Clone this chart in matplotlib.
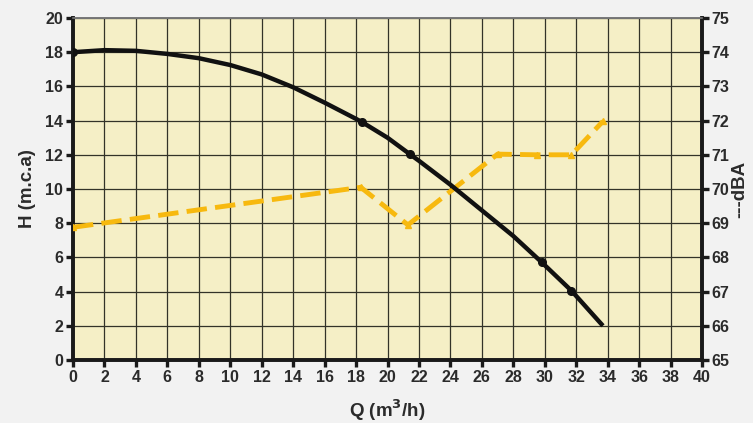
import matplotlib
matplotlib.use("Agg")
import matplotlib.pyplot as plt
import numpy as np

# H-Q curve (smooth)
q_curve = [0, 2, 4, 6, 8, 10, 12, 14, 16, 18, 18.4, 20, 21.4, 22, 24, 26, 28, 29.8, 31.7, 33.7]
h_curve = [18.0, 18.12, 18.08, 17.9, 17.65, 17.25, 16.7, 15.95, 15.05, 14.1, 13.9, 13.0, 12.05, 11.65, 10.25, 8.75, 7.25, 5.72, 4.05, 2.0]
# measured markers on H curve
q_pts = [0, 18.4, 21.4, 29.8, 31.7]
h_pts = [18.0, 13.9, 12.05, 5.72, 4.05]

# noise curve (dBA)
q_noise = [0, 18.3, 21.3, 27.0, 29.5, 31.7, 33.7]
dba = [68.88, 70.05, 68.95, 71.02, 71.0, 71.0, 71.98]

xticks = list(range(0, 41, 2))
yticks_left = list(range(0, 21, 2))
yticks_right = list(range(65, 76))

plt.rcParams['font.family'] = ['Liberation Sans', 'DejaVu Sans']
fig = plt.figure(figsize=(7.53, 4.23), dpi=100, facecolor='#f2f2f2')
ax = fig.add_axes([73/753, 1-360/423, (702-73)/753, (360-18)/423])
ax.set_facecolor('#f5efc6')

ax.set_xlim(0, 40)
ax.set_ylim(0, 20)
ax.set_xticks(xticks)
ax.set_yticks(yticks_left)
ax.grid(True, color='#333328', linewidth=0.9)
ax.set_axisbelow(True)

ax2 = ax.twinx()
ax2.set_ylim(65, 75)
ax2.set_yticks(yticks_right)

ax2.plot(q_noise, dba, color='#f7b90f', linewidth=3.5, dashes=(4.2, 1.7), solid_capstyle='butt', zorder=3)
ax2.plot(q_noise, dba, linestyle='none', marker='^', color='#f7b90f', markersize=5, zorder=3)
ax2.plot(q_curve, [65 + h / 2 for h in h_curve], color='#111111', linewidth=3.2, zorder=4, solid_capstyle='butt')
ax2.plot(q_pts, [65 + h / 2 for h in h_pts], linestyle='none', marker='o', color='#111111', markersize=5.5, zorder=5)

for a in (ax, ax2):
    for s in ('left', 'bottom', 'right'):
        a.spines[s].set_linewidth(2.6)
        a.spines[s].set_color('#1a1a1a')
    a.spines['top'].set_linewidth(1.2)
    a.spines['top'].set_color('#777777')
    a.tick_params(width=2.4, length=5, color='#1a1a1a', labelsize=11.5, labelcolor='#2b2b2b', pad=2)
    for lbl in a.get_xticklabels() + a.get_yticklabels():
        lbl.set_fontweight('bold')

ax.set_ylabel('H (m.c.a)', fontsize=13.5, fontweight='bold', color='#2b2b2b', labelpad=7)
ax.set_xlabel('Q (m$^{\\mathbf{3}}$/h)', fontsize=13.5, fontweight='bold', color='#2b2b2b', labelpad=9)
ax2.set_ylabel('---dBA', fontsize=13.5, fontweight='bold', color='#2b2b2b', labelpad=1)

fig.savefig('out.png', dpi=100, facecolor=fig.get_facecolor())
